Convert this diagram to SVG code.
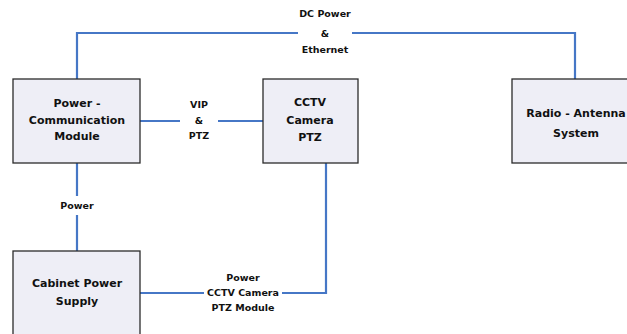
<svg xmlns="http://www.w3.org/2000/svg" width="627" height="334" viewBox="0 0 627 334">
<style>
.box{fill:#eeeef6;stroke:#2b2b2b;stroke-width:1.3}
.ln{fill:none;stroke:#4677c6;stroke-width:2.2}
.t{font-family:"DejaVu Sans",sans-serif;font-weight:bold;font-size:11px;fill:#111;text-anchor:middle}
.s{font-family:"DejaVu Sans",sans-serif;font-weight:bold;font-size:9.5px;fill:#111;text-anchor:middle}
</style>
<rect width="627" height="334" fill="#fff"/>
<g id="connectors">
<path class="ln" d="M77,79 V33 H298 M352,33 H575 V79"/>
<path class="ln" d="M140,121 H180 M218,121 H263"/>
<path class="ln" d="M77,163 V196 M77,215 V251"/>
<path class="ln" d="M140,293 H204 M282,293 H326 V163"/>
<text class="s" x="325" y="17">DC Power</text>
<text class="s" x="325" y="37">&amp;</text>
<text class="s" x="325" y="53">Ethernet</text>
<text class="s" x="199" y="108">VIP</text>
<text class="s" x="199" y="124">&amp;</text>
<text class="s" x="199" y="139">PTZ</text>
<text class="s" x="77" y="209">Power</text>
<text class="s" x="243" y="281">Power</text>
<text class="s" x="243" y="296">CCTV Camera</text>
<text class="s" x="243" y="311">PTZ Module</text>
</g>
<g id="power-comm">
<rect class="box" x="13" y="79" width="127" height="84"/>
<text class="t" x="77" y="107">Power -</text>
<text class="t" x="77" y="124">Communication</text>
<text class="t" x="77" y="140">Module</text>
</g>
<g id="cctv">
<rect class="box" x="263" y="79" width="95" height="84"/>
<text class="t" x="310" y="106">CCTV</text>
<text class="t" x="310" y="124">Camera</text>
<text class="t" x="310" y="141">PTZ</text>
</g>
<g id="radio">
<rect class="box" x="512" y="79" width="130" height="84"/>
<text class="t" x="576" y="117">Radio - Antenna</text>
<text class="t" x="576" y="137">System</text>
</g>
<g id="cabinet">
<rect class="box" x="13" y="251" width="127" height="95"/>
<text class="t" x="77" y="287">Cabinet Power</text>
<text class="t" x="77" y="305">Supply</text>
</g>
</svg>
